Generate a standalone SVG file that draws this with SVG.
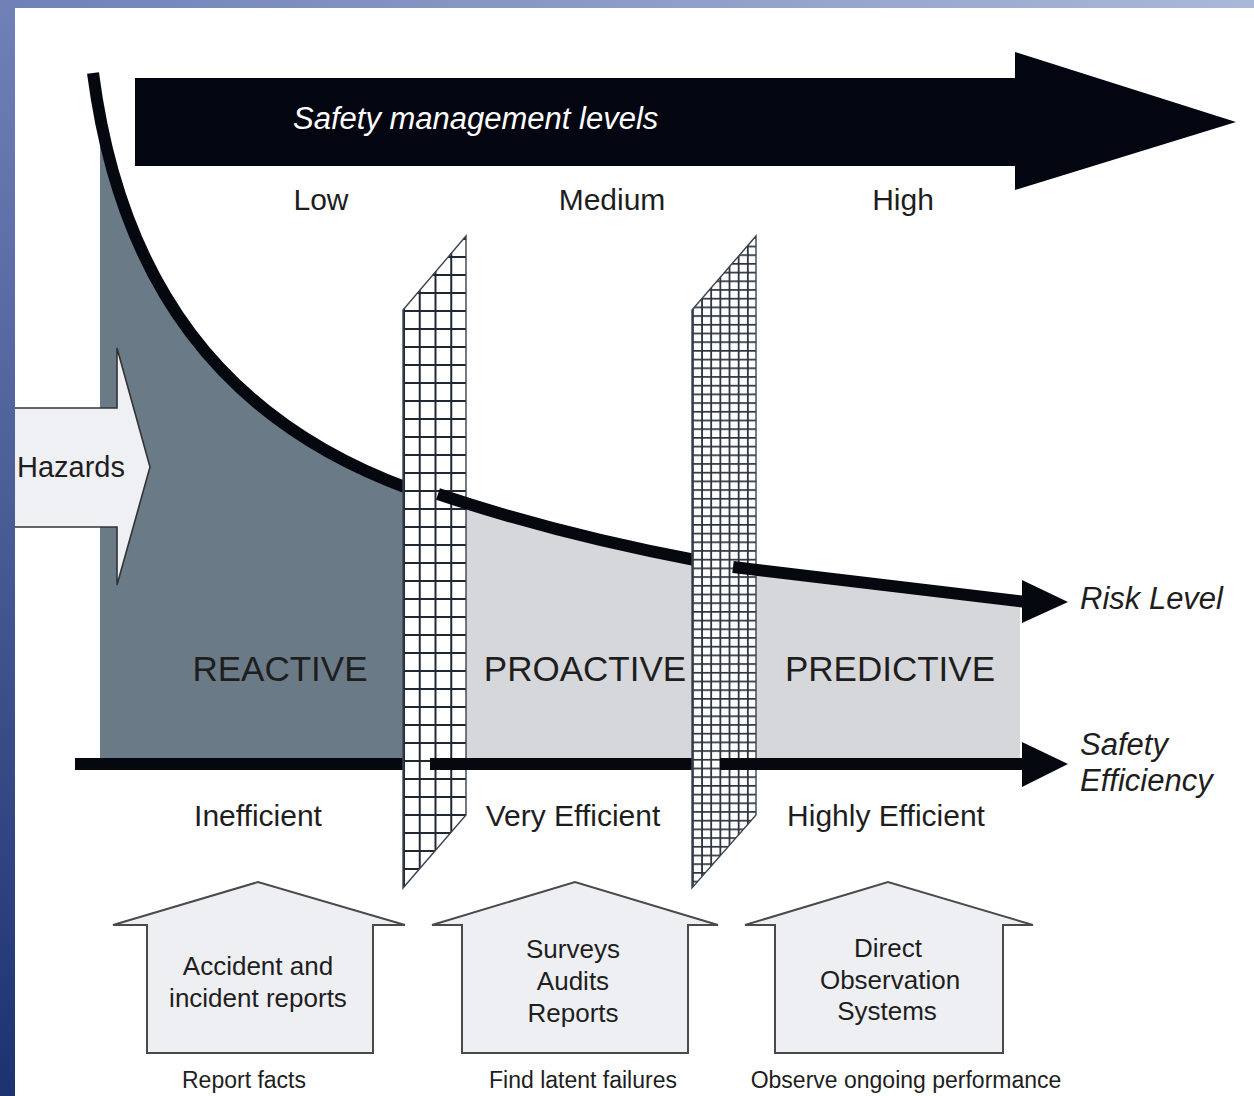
<svg xmlns="http://www.w3.org/2000/svg" width="1254" height="1096" viewBox="0 0 1254 1096">
<defs>
<linearGradient id="bg" x1="1" y1="0" x2="0" y2="1">
<stop offset="0" stop-color="#aab8d8"/>
<stop offset="0.5" stop-color="#7081b8"/>
<stop offset="1" stop-color="#1c3270"/>
</linearGradient>
<pattern id="mesh1" patternUnits="userSpaceOnUse" x="403" y="4" width="15.75" height="18">
<rect width="15.75" height="18" fill="#ffffff"/>
<path d="M1,0 V18 M0,1 H15.75" stroke="#1f2833" stroke-width="2" fill="none"/>
</pattern>
<pattern id="mesh2" patternUnits="userSpaceOnUse" x="692" y="2" width="9.15" height="8.7">
<rect width="9.15" height="8.7" fill="#ffffff"/>
<path d="M0.9,0 V8.7 M0,0.9 H9.15" stroke="#2a333e" stroke-width="1.8" fill="none"/>
</pattern>
<clipPath id="darkclip"><rect x="100" y="0" width="304" height="766"/></clipPath>
<style>
text{font-family:"Liberation Sans",Arial,sans-serif;fill:#1e1e1e}
.it{font-style:italic}
.line{fill:none;stroke:#060810;stroke-width:12;stroke-linecap:butt}
.head{fill:#060810}
.mesh{stroke:#3a4450;stroke-width:1.4}
.house{fill:#eeeff2;stroke:#4a4a4a;stroke-width:2;stroke-linejoin:miter}
.caps{font-size:35px;text-anchor:middle}
.eff{font-size:30px;text-anchor:middle}
.lvl{font-size:30px;text-anchor:middle}
.hl{font-size:26px;text-anchor:middle}
.sub{font-size:23px;text-anchor:middle}
.side{font-size:31px}
</style>
</defs>
<rect x="0" y="0" width="1254" height="1096" fill="url(#bg)"/>
<rect x="15" y="8" width="1239" height="1088" fill="#ffffff"/>

<g id="title-arrow">
<polygon points="135,78 1015,78 1015,52 1236,122 1015,190 1015,166 135,166" fill="#030611"/>
<text x="293" y="129" class="it" style="font-size:31px;fill:#ffffff">Safety management levels</text>
</g>
<g id="levels">
<text x="321" y="210" class="lvl">Low</text>
<text x="612" y="210" class="lvl">Medium</text>
<text x="903" y="210" class="lvl">High</text>
</g>

<g id="reactive">
<path d="M93,73 C120,280 220,420 404,487 L404,766 L100,766 L100,73 Z" fill="#6a7a86" clip-path="url(#darkclip)"/>
<text x="280" y="681" class="caps">REACTIVE</text>
</g>
<g id="proactive-predictive">
<path d="M404,494 L438,494 Q560,535 692,560 L733,567 Q880,585 1020,599 L1020,766 L404,766 Z" fill="#d6d7db"/>
<text x="585" y="681" class="caps">PROACTIVE</text>
<text x="890" y="681" class="caps">PREDICTIVE</text>
</g>

<g id="hazards">
<polygon points="15,408 117,408 117,348 150,467 117,585 117,527 15,527" fill="#eff0f3"/>
<polyline points="15,408 117,408 117,348 150,467 117,585 117,527 15,527" fill="none" stroke="#333" stroke-width="1.6"/>
<text x="17" y="477" style="font-size:29px">Hazards</text>
</g>

<g id="connectors">
<path class="line" d="M93,73 C120,280 220,420 410,489"/>
<line class="line" x1="75" y1="764" x2="410" y2="764"/>
<g id="barrier1">
<polygon points="403,310 466,236 466,815 403,888" fill="url(#mesh1)" class="mesh"/>
</g>
<path class="line" d="M438,494 Q560,535 700,561"/>
<line class="line" x1="430" y1="764" x2="700" y2="764"/>
<g id="barrier2">
<polygon points="692,310 756,236 756,815 692,888" fill="url(#mesh2)" class="mesh"/>
</g>
<path class="line" d="M733,567 Q880,585 1026,602"/>
<polygon class="head" points="1022,580 1068,602 1022,623"/>
<line class="line" x1="720" y1="764" x2="1026" y2="764"/>
<polygon class="head" points="1022,742 1068,764 1022,787"/>
</g>

<g id="axis-labels">
<text x="1080" y="609" class="it side">Risk Level</text>
<text x="1080" y="755" class="it side">Safety</text>
<text x="1080" y="791" class="it side">Efficiency</text>
</g>

<g id="efficiency">
<text x="258" y="826" class="eff">Inefficient</text>
<text x="573" y="826" class="eff">Very Efficient</text>
<text x="886" y="826" class="eff">Highly Efficient</text>
</g>

<g id="house1">
<polygon class="house" points="113,925 258,882 405,925 373,925 373,1053 147,1053 147,925"/>
<text x="258" y="975" class="hl">Accident and</text>
<text x="258" y="1007" class="hl">incident reports</text>
<text x="244" y="1088" class="sub">Report facts</text>
</g>
<g id="house2">
<polygon class="house" points="432,925 575,882 718,925 688,925 688,1053 462,1053 462,925"/>
<text x="573" y="958" class="hl">Surveys</text>
<text x="573" y="990" class="hl">Audits</text>
<text x="573" y="1022" class="hl">Reports</text>
<text x="583" y="1088" class="sub">Find latent failures</text>
</g>
<g id="house3">
<polygon class="house" points="745,925 888,882 1033,925 1003,925 1003,1053 775,1053 775,925"/>
<text x="888" y="957" class="hl">Direct</text>
<text x="890" y="989" class="hl">Observation</text>
<text x="887" y="1020" class="hl">Systems</text>
<text x="906" y="1088" class="sub">Observe ongoing performance</text>
</g>
</svg>
